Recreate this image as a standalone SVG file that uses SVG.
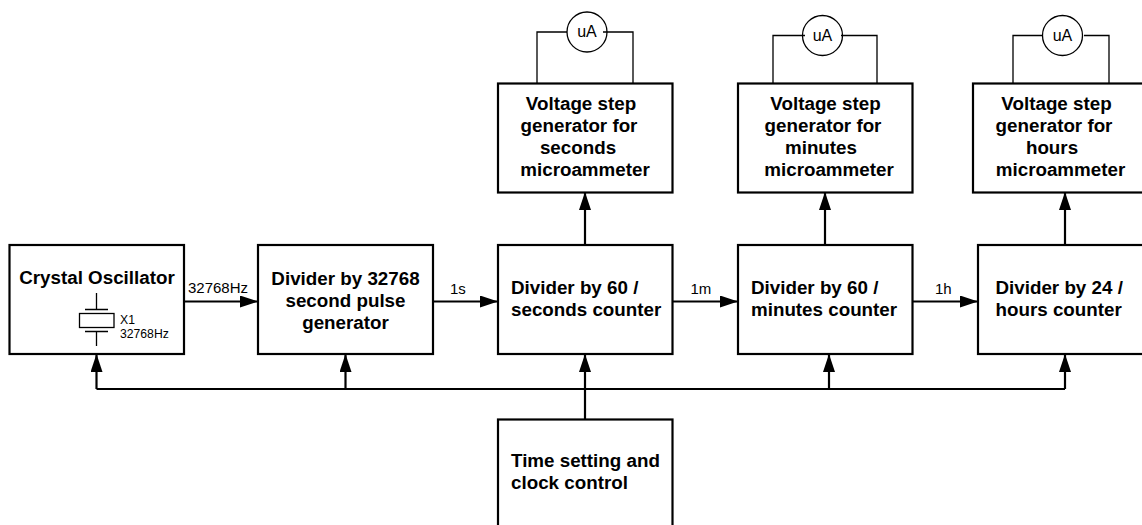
<svg xmlns="http://www.w3.org/2000/svg" width="1142" height="525" viewBox="0 0 1142 525">
<style>
.b{fill:#fff;stroke:#000;stroke-width:2.2}
.c{fill:none;stroke:#000;stroke-width:2.2}
.t{fill:none;stroke:#000;stroke-width:1.3}
text{font-family:"Liberation Sans",Arial,sans-serif;fill:#000}
.h{font-size:18.8px;font-weight:bold;text-anchor:middle}
.l{font-size:18.8px;font-weight:bold}
.s{font-size:15px}
.x{font-size:12.2px}
.u{font-size:16px;text-anchor:middle}
</style>
<defs><marker id="a" markerUnits="userSpaceOnUse" markerWidth="20" markerHeight="14" refX="18" refY="6" orient="auto"><path d="M0 0L18 6L0 12Z" fill="#000"/></marker></defs>
<rect width="1142" height="525" fill="#fff"/>
<g id="connectors">
<path class="c" d="M184 301.500H258" marker-end="url(#a)"/>
<path class="c" d="M433 301.500H498" marker-end="url(#a)"/>
<path class="c" d="M672 301.500H738" marker-end="url(#a)"/>
<path class="c" d="M912 301.500H978" marker-end="url(#a)"/>
<path class="c" d="M585 245V192" marker-end="url(#a)"/>
<path class="c" d="M825 245V192" marker-end="url(#a)"/>
<path class="c" d="M1065 245V192" marker-end="url(#a)"/>
<path class="c" d="M585 419V354" marker-end="url(#a)"/>
<path class="c" d="M96.500 389H1065"/>
<path class="c" d="M96.500 389V354" marker-end="url(#a)"/>
<path class="c" d="M345.500 389V354" marker-end="url(#a)"/>
<path class="c" d="M829 389V354" marker-end="url(#a)"/>
<path class="c" d="M1065 389V354" marker-end="url(#a)"/>
<path class="t" d="M537 83V32H567M603 32H633V83"/>
<path class="t" d="M773 83V35.500H805M841 35.500H877V83"/>
<path class="t" d="M1013 83V35.500H1043M1084 35.500H1109V83"/>
</g>
<g id="crystal"><rect class="b" x="9.500" y="245" width="174.500" height="109"/>
<text class="h" x="97" y="284">Crystal Oscillator</text>
<path class="t" d="M96.500 293V309M85 309.500H108M85 331.500H108M96.500 332V346"/>
<rect class="t" x="79.500" y="313.500" width="34.500" height="14"/>
<text class="x" x="120" y="324">X1</text><text class="x" x="120" y="338">32768Hz</text></g>
<g id="divider32768"><rect class="b" x="258" y="245" width="175" height="109"/>
<text class="h" x="345.500" y="285">Divider by 32768</text><text class="h" x="345.500" y="307">second pulse</text><text class="h" x="345.500" y="329">generator</text></g>
<g id="divider60s"><rect class="b" x="498" y="245" width="174.500" height="109"/>
<text class="l" x="511" y="294">Divider by 60 /</text><text class="l" x="511" y="316">seconds counter</text></g>
<g id="divider60m"><rect class="b" x="738" y="245" width="174.500" height="109"/>
<text class="l" x="751" y="294">Divider by 60 /</text><text class="l" x="751" y="316">minutes counter</text></g>
<g id="divider24"><rect class="b" x="978" y="245" width="174.500" height="109"/>
<text class="l" x="995.500" y="294">Divider by 24 /</text><text class="l" x="995.500" y="316">hours counter</text></g>
<g id="stepS"><rect class="b" x="498" y="83.500" width="174.500" height="109"/>
<text class="h" x="581" y="110">Voltage step</text><text class="h" x="579" y="132">generator for</text><text class="h" x="578" y="154">seconds</text><text class="h" x="585" y="176">microammeter</text></g>
<g id="stepM"><rect class="b" x="738" y="83.500" width="174.500" height="109"/>
<text class="h" x="825.500" y="110">Voltage step</text><text class="h" x="823" y="132">generator for</text><text class="h" x="821" y="154">minutes</text><text class="h" x="829" y="176">microammeter</text></g>
<g id="stepH"><rect class="b" x="973" y="83.500" width="175" height="109"/>
<text class="h" x="1056.500" y="110">Voltage step</text><text class="h" x="1054" y="132">generator for</text><text class="h" x="1052" y="154">hours</text><text class="h" x="1060.500" y="176">microammeter</text></g>
<g id="timeset"><rect class="b" x="498" y="419.500" width="174.500" height="120"/>
<text class="l" x="511" y="467">Time setting and</text><text class="l" x="511" y="489">clock control</text></g>
<g id="meterS"><circle class="t" cx="587" cy="32" r="20" fill="#fff"/><text class="u" x="587" y="37">uA</text></g>
<g id="meterM"><circle class="t" cx="822.500" cy="35.500" r="20" fill="#fff"/><text class="u" x="822.500" y="40.500">uA</text></g>
<g id="meterH"><circle class="t" cx="1062.500" cy="35.500" r="20" fill="#fff"/><text class="u" x="1062.500" y="40.500">uA</text></g>
<g id="labels"><text class="s" x="188" y="293">32768Hz</text><text class="s" x="450" y="294">1s</text><text class="s" x="690.500" y="294">1m</text><text class="s" x="935" y="294">1h</text></g>
</svg>
